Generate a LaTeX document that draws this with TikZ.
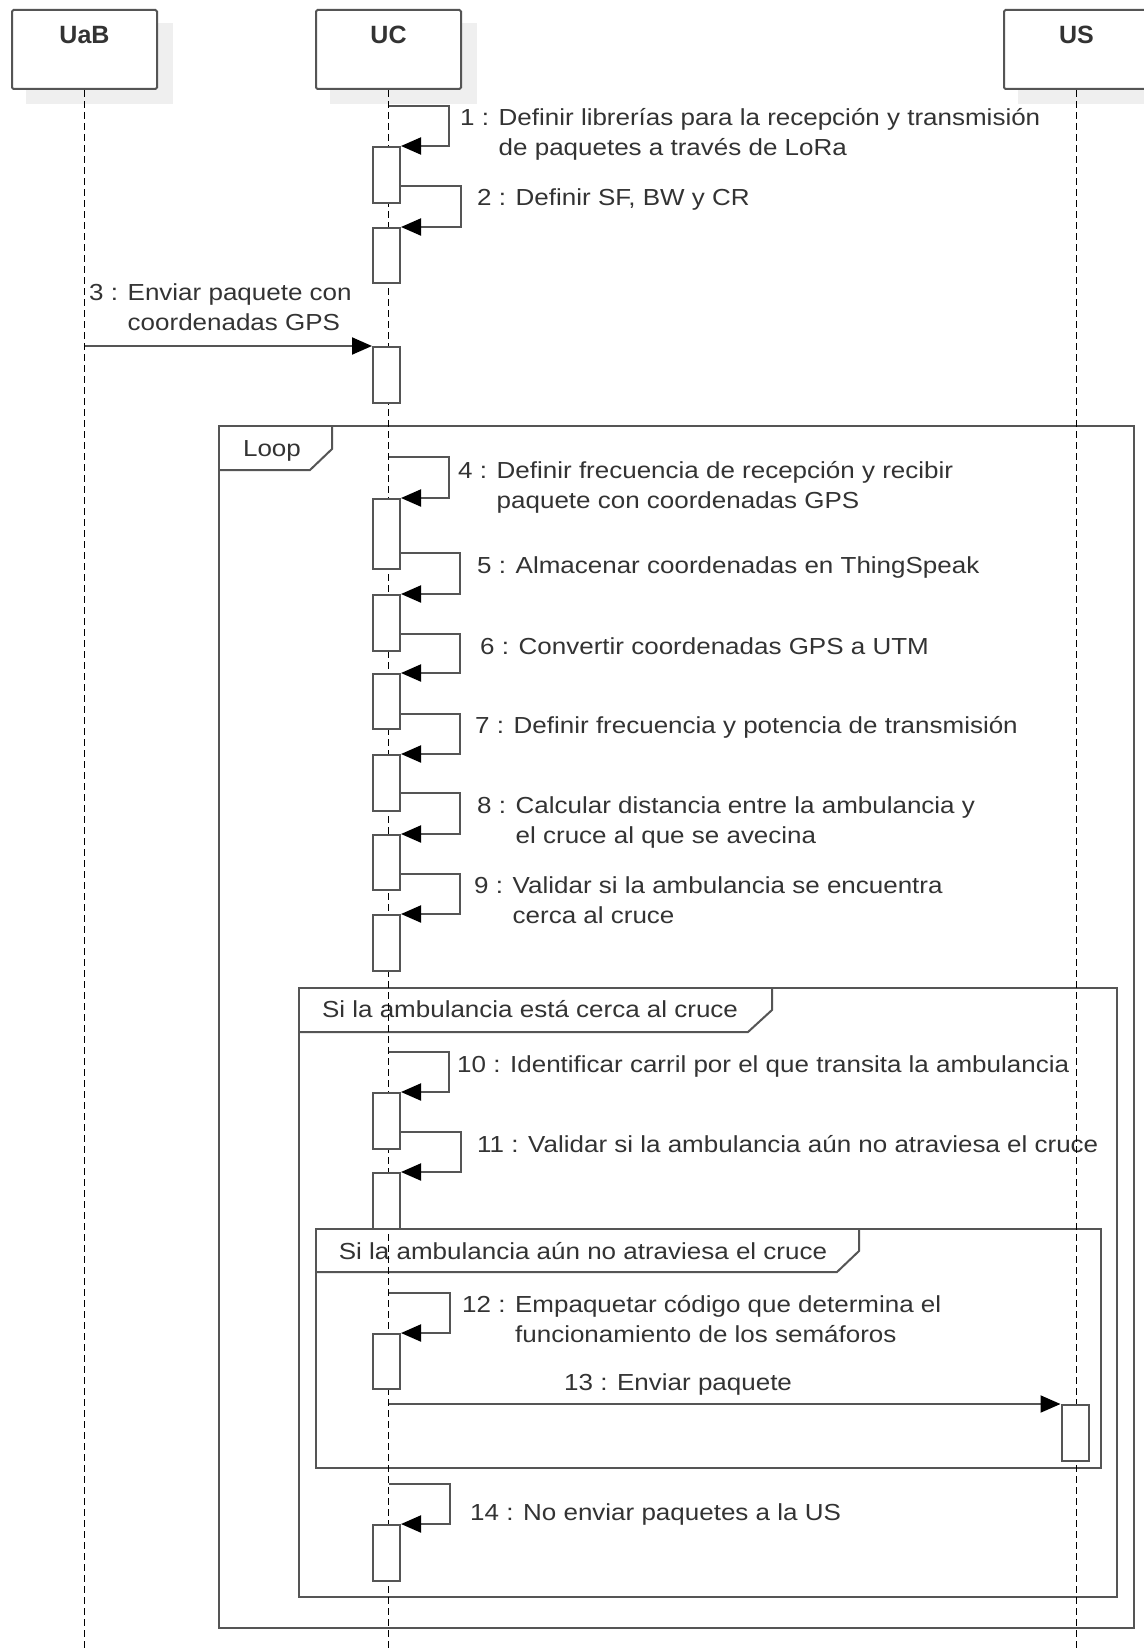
\documentclass[tikz,border=0pt]{standalone}
\usepackage{fontspec}
\setmainfont{Liberation Sans}[FakeStretch=1.12]
\newfontfamily\headfont{Liberation Sans}
\usetikzlibrary{arrows.meta,calc}

\definecolor{ink}{HTML}{333333}
\definecolor{edge}{HTML}{555555}
\definecolor{shadowgray}{HTML}{EFEFEF}

\pgfdeclarelayer{behind}
\pgfsetlayers{behind,main}

\tikzset{
  head/.style={draw=edge, line width=2pt, fill=white, rounded corners=1.5pt,
    minimum width=145pt, inner sep=0pt, text height=34pt, text depth=45pt,
    anchor=north, font=\headfont\bfseries\fontsize{25}{30}\selectfont, text=ink},
  headshadow/.style={fill=shadowgray, draw=none},
  lifeline/.style={black, line width=1.6pt, dash pattern=on 7pt off 4pt},
  act/.style={draw=edge, line width=2pt, fill=white, minimum width=27pt,
    inner sep=0pt, anchor=north},
  msg/.style={draw=edge, line width=2pt,
    -{Triangle[length=20pt,width=17pt,color=black,fill=black]}},
  fragment/.style={draw=edge, line width=2pt},
  lbl/.style={anchor=base west, inner sep=0pt, text=ink,
    font=\fontsize{23.2}{30}\selectfont},
  tablbl/.style={anchor=base, inner sep=0pt, text=ink,
    font=\fontsize{23.2}{30}\selectfont},
}

\begin{document}
\begin{tikzpicture}[x=1pt, y=-1pt]
\useasboundingbox (0,0) rectangle (1143,1651);
\begin{pgfonlayer}{behind}
  \fill[white] (0,0) rectangle (1143,1651);
\end{pgfonlayer}

% participant headers
\node[head] (uab) at (84.5,9) {UaB};
\node[head] (uc)  at (388.5,9) {UC};
\node[head] (us)  at (1076.5,9) {US};

% soft drop shadows behind the headers
\begin{pgfonlayer}{behind}
\foreach \p in {uab,uc,us}{
  \path[headshadow] ($(\p.north west)+(15,14)$) rectangle ($(\p.south east)+(15,14)$);
}
\end{pgfonlayer}

% combined fragments
\draw[fragment] (219,426) rectangle (1134,1628);
\draw[fragment] (219,470) -- (310,470) -- (332,449) -- (332,426);
\node[tablbl] (floop) at (272,456) {Loop};

\draw[fragment] (299,988) rectangle (1117,1597);
\draw[fragment] (299,1032) -- (748,1032) -- (772,1010) -- (772,988);
\node[tablbl] (fnear) at (530,1017) {Si la ambulancia está cerca al cruce};

\draw[fragment] (316,1229) rectangle (1101,1468);
\draw[fragment] (316,1272) -- (837,1272) -- (859,1251) -- (859,1229);
\node[tablbl] (fcross) at (583,1259) {Si la ambulancia aún no atraviesa el cruce};

% message labels
\node[lbl] (l1) at (460,125) {1 : \begin{tabular}[t]{@{}l@{}}Definir librerías para la recepción y transmisión\\de paquetes a través de LoRa\end{tabular}};
\node[lbl] (l2) at (477,205) {2 : Definir SF, BW y CR};
\node[lbl] (l3) at (89,300) {3 : \begin{tabular}[t]{@{}l@{}}Enviar paquete con\\coordenadas GPS\end{tabular}};
\node[lbl] (l4) at (458,478) {4 : \begin{tabular}[t]{@{}l@{}}Definir frecuencia de recepción y recibir\\paquete con coordenadas GPS\end{tabular}};
\node[lbl] (l5) at (477,573) {5 : Almacenar coordenadas en ThingSpeak};
\node[lbl] (l6) at (480,654) {6 : Convertir coordenadas GPS a UTM};
\node[lbl] (l7) at (475,733) {7 : Definir frecuencia y potencia de transmisión};
\node[lbl] (l8) at (477,813) {8 : \begin{tabular}[t]{@{}l@{}}Calcular distancia entre la ambulancia y\\el cruce al que se avecina\end{tabular}};
\node[lbl] (l9) at (474,893) {9 : \begin{tabular}[t]{@{}l@{}}Validar si la ambulancia se encuentra\\cerca al cruce\end{tabular}};
\node[lbl] (l10) at (457,1072) {10 : Identificar carril por el que transita la ambulancia};
\node[lbl] (l11) at (477,1152) {11 : Validar si la ambulancia aún no atraviesa el cruce};
\node[lbl] (l12) at (462,1312) {12 : \begin{tabular}[t]{@{}l@{}}Empaquetar código que determina el\\funcionamiento de los semáforos\end{tabular}};
\node[lbl] (l13) at (564,1390) {13 : Enviar paquete};
\node[lbl] (l14) at (470,1520) {14 : No enviar paquetes a la US};

% lifelines
\foreach \p in {uab,uc,us}{
  \draw[lifeline] (\p.south) -- ($(\p.south)+(0,1600)$);
}

% activation bars
\node[act, minimum height=56pt] (a1)  at (386.5,146)  {};
\node[act, minimum height=55pt] (a2)  at (386.5,227)  {};
\node[act, minimum height=56pt] (a3)  at (386.5,346)  {};
\node[act, minimum height=70pt] (a4)  at (386.5,498)  {};
\node[act, minimum height=56pt] (a5)  at (386.5,594)  {};
\node[act, minimum height=55pt] (a6)  at (386.5,673)  {};
\node[act, minimum height=56pt] (a7)  at (386.5,754)  {};
\node[act, minimum height=55pt] (a8)  at (386.5,834)  {};
\node[act, minimum height=56pt] (a9)  at (386.5,914)  {};
\node[act, minimum height=56pt] (a10) at (386.5,1092) {};
\node[act, minimum height=56pt] (a11) at (386.5,1172) {};
\node[act, minimum height=55pt] (a12) at (386.5,1333) {};
\node[act, minimum height=56pt] (a13) at (1075,1404)  {};
\node[act, minimum height=56pt] (a14) at (386.5,1524) {};

% message start points
\coordinate (s1)  at (388.5,106);
\coordinate (s2)  at (400,186);
\coordinate (s3)  at (84.5,346);
\coordinate (s4)  at (388.5,457);
\coordinate (s5)  at (400,553);
\coordinate (s6)  at (400,634);
\coordinate (s7)  at (400,714);
\coordinate (s8)  at (400,793);
\coordinate (s9)  at (400,874);
\coordinate (s10) at (388.5,1052);
\coordinate (s11) at (400,1132);
\coordinate (s12) at (388.5,1293);
\coordinate (s13) at (388.5,1404);
\coordinate (s14) at (388.5,1484);

% messages
\draw[msg] (s1)  -- ++(60,0) |- (a1.north east);
\draw[msg] (s2)  -- ++(61,0) |- (a2.north east);
\draw[msg] (s3)  -- (a3.north west);
\draw[msg] (s4)  -- ++(60,0) |- (a4.north east);
\draw[msg] (s5)  -- ++(60,0) |- (a5.north east);
\draw[msg] (s6)  -- ++(60,0) |- (a6.north east);
\draw[msg] (s7)  -- ++(60,0) |- (a7.north east);
\draw[msg] (s8)  -- ++(60,0) |- (a8.north east);
\draw[msg] (s9)  -- ++(60,0) |- (a9.north east);
\draw[msg] (s10) -- ++(60,0) |- (a10.north east);
\draw[msg] (s11) -- ++(61,0) |- (a11.north east);
\draw[msg] (s12) -- ++(61,0) |- (a12.north east);
\draw[msg] (s13) -- (a13.north west);
\draw[msg] (s14) -- ++(61,0) |- (a14.north east);
\end{tikzpicture}
\end{document}
